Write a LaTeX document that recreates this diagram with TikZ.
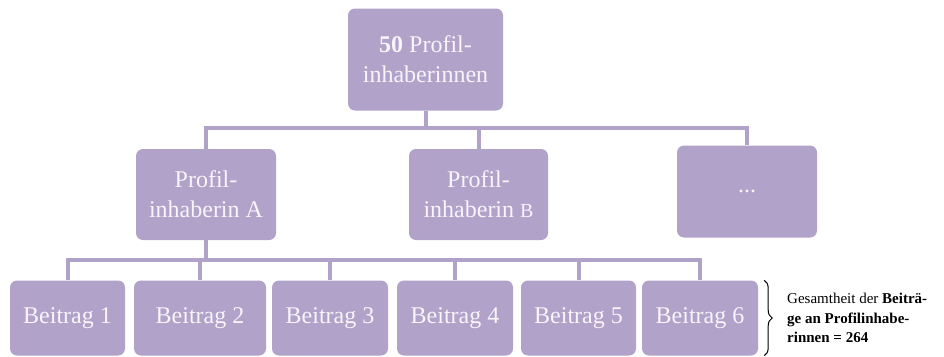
\documentclass[tikz,border=0pt]{standalone}
\usepackage{fontspec}
\setmainfont{Liberation Serif}
\usetikzlibrary{decorations.pathreplacing}
\definecolor{lav}{RGB}{177,162,201}
\definecolor{boxtext}{RGB}{247,244,250}
\begin{document}
\begin{tikzpicture}[x=1pt,y=-1pt,
  box/.style={fill=lav,rounded corners=7pt,inner sep=0pt,align=center,text=boxtext,
    font=\fontsize{24}{30}\selectfont},
  conn/.style={draw=lav,line width=4pt,line join=miter}]
\useasboundingbox (0,0) rectangle (944,356);
% level 1
\node[box,minimum width=155pt,minimum height=102pt] (top) at (425.5,59.5) {\textbf{50} Profil-\\inhaberinnen};
% level 2
\node[box,minimum width=140pt,minimum height=91pt] (A) at (206,194.5) {Profil-\\inhaberin A};
\node[box,minimum width=139pt,minimum height=91pt] (B) at (478.5,194.5) {Profil-\\inhaberin {\fontsize{20}{30}\selectfont B}};
\node[box,minimum width=140pt,minimum height=92pt] (D) at (747,191.5) {...};
% level 3
\node[box,minimum width=115pt,minimum height=75pt] (b1) at (67.5,318) {Beitrag 1};
\node[box,minimum width=132pt,minimum height=75pt] (b2) at (200,318) {Beitrag 2};
\node[box,minimum width=116pt,minimum height=75pt] (b3) at (330,318) {Beitrag 3};
\node[box,minimum width=116pt,minimum height=75pt] (b4) at (455,318) {Beitrag 4};
\node[box,minimum width=115pt,minimum height=75pt] (b5) at (578.5,318) {Beitrag 5};
\node[box,minimum width=116pt,minimum height=75pt] (b6) at (700,318) {Beitrag 6};
% connectors level 1-2
\coordinate (h1) at (0,128);
\draw[conn] (top.south) -- (top.south |- h1);
\draw[conn] (A.north) -- (A.north |- h1) -- (D.north |- h1) -- (D.north);
\draw[conn] (B.north |- h1) -- (B.north);
% connectors level 2-3
\coordinate (h2) at (0,260);
\draw[conn] (A.south) -- (A.south |- h2);
\draw[conn] (b1.north) -- (b1.north |- h2) -- (b6.north |- h2) -- (b6.north);
\foreach \n in {b2,b3,b4,b5} \draw[conn] (\n.north |- h2) -- (\n.north);
% brace
\coordinate (br1) at ([xshift=6pt]b6.north east);
\coordinate (br2) at ([xshift=6pt]b6.south east);
\draw[line width=1pt,decorate,decoration={brace,amplitude=8pt}] (br1) -- (br2);
\node[anchor=west,align=left,inner sep=0pt,font=\fontsize{15}{19.5}\selectfont] (note) at (787,318)
  {Gesamtheit der \textbf{Beiträ-}\\\textbf{ge an Profilinhabe-}\\\textbf{rinnen = 264}};
\end{tikzpicture}
\end{document}
